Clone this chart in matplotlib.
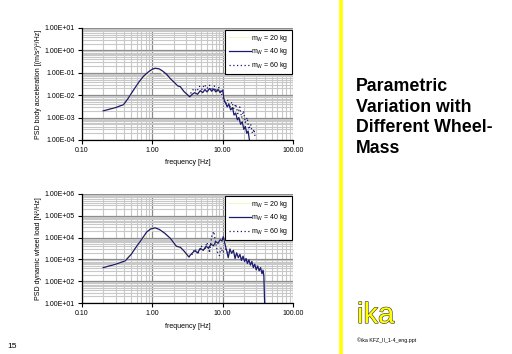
import matplotlib
matplotlib.use("Agg")
import matplotlib.pyplot as plt
import matplotlib.ticker as mticker
import matplotlib.patheffects as pe
import numpy as np

plt.rcParams['font.family'] = ['Liberation Sans', 'DejaVu Sans']
plt.rcParams['mathtext.default'] = 'regular'

# ---------------- data ----------------
series_labels = ["m$_W$ = 20 kg", "m$_W$ = 40 kg", "m$_W$ = 60 kg"]

# top chart: PSD body acceleration
acc_f40 = [0.2, 0.3, 0.39, 0.45, 0.54, 0.65, 0.75, 0.88, 1.0, 1.1, 1.25, 1.4, 1.6, 1.8, 2.0,
           2.3, 2.5, 2.8, 3.1, 3.4, 3.7, 4.0, 4.4, 4.8, 5.2, 5.6, 6.0, 6.5, 7.0, 7.5, 8.0,
           8.6, 9.2, 10.0, 10.5, 11.0, 11.6, 12.2, 13.0, 13.8, 14.5, 15.3, 16.2, 17.0, 18.0,
           19.0, 20.0, 21.0, 22.0, 23.0, 24.0]
acc_v40 = [2.0e-3, 2.8e-3, 3.8e-3, 7e-3, 1.7e-2, 4.0e-2, 7.0e-2, 1.1e-1, 1.45e-1, 1.6e-1,
           1.5e-1, 1.2e-1, 8.5e-2, 5.5e-2, 4e-2, 2.6e-2, 2.4e-2, 1.5e-2, 1.1e-2, 8.5e-3,
           1.1e-2, 1.3e-2, 1.1e-2, 1.6e-2, 1.3e-2, 1.8e-2, 1.4e-2, 2.0e-2, 1.5e-2, 1.9e-2,
           1.4e-2, 1.8e-2, 1.3e-2, 1.7e-2, 6e-3, 4.5e-3, 3.0e-3, 4e-3, 2.2e-3, 2.8e-3,
           1.3e-3, 1.6e-3, 8e-4, 1.0e-3, 5e-4, 6.5e-4, 3e-4, 4e-4, 2e-4, 2.5e-4, 1e-4]
acc_f60 = [3.5, 3.9, 4.3, 4.7, 5.1, 5.5, 6.0, 6.5, 7.0, 7.6, 8.2, 8.8, 9.5, 10.2, 11.0,
           11.8, 12.6, 13.5, 14.4, 15.4, 16.4, 17.5, 18.6, 19.8, 21.0, 22.3, 23.6, 25.0,
           26.5, 28.0, 29.0]
acc_v60 = [1.2e-2, 2.0e-2, 1.5e-2, 2.5e-2, 1.8e-2, 3.0e-2, 2.0e-2, 2.8e-2, 1.6e-2, 2.6e-2,
           1.4e-2, 2.2e-2, 1.2e-2, 7e-3, 4e-3, 6e-3, 3e-3, 5e-3, 2.5e-3, 4e-3, 1.5e-3,
           3e-3, 1.0e-3, 2e-3, 6e-4, 1.0e-3, 3e-4, 5e-4, 2e-4, 3e-4, 1.2e-4]
acc_f20 = [0.2, 0.4, 0.7, 1.1, 1.8, 3.0, 5.0, 8.0, 12.0, 16.0, 20.0]
acc_v20 = [2.0e-3, 4e-3, 5e-2, 1.6e-1, 5e-2, 1.1e-2, 1.4e-2, 1.5e-2, 6e-3, 2e-3, 5e-4]

# bottom chart: PSD dynamic wheel load
load_f40 = [0.2, 0.3, 0.41, 0.5, 0.57, 0.7, 0.83, 0.95, 1.09, 1.25, 1.5, 1.8, 2.0, 2.2,
            2.5, 2.8, 3.3, 3.6, 4.0, 4.4, 4.8, 5.3, 5.8, 6.3, 6.8, 7.4, 8.0, 8.6, 9.2,
            9.8, 10.2, 10.8, 11.4, 12.0, 12.7, 13.4, 14.2, 15.0, 15.8, 16.7, 17.6, 18.5,
            19.5, 20.5, 21.5, 22.5, 23.6, 24.8, 26.0, 27.3, 28.6, 30.0, 31.5, 33.0, 34.6,
            36.2, 37.5, 38.5, 39.5]
load_v40 = [420, 600, 850, 1700, 3200, 8000, 18000, 25000, 28000, 24000, 16000, 9300,
            6000, 4000, 3600, 2500, 1300, 1800, 2500, 2000, 3200, 2600, 4000, 3200, 5000,
            4200, 6500, 5500, 8000, 7000, 11000, 5000, 2500, 1200, 3000, 1900, 2600, 1100,
            2000, 1200, 1700, 900, 1400, 800, 1100, 650, 950, 550, 800, 420, 600, 330, 500,
            300, 420, 220, 320, 180, 10]
load_f60 = [3.3, 3.6, 4.0, 4.5, 5.0, 5.5, 6.0, 6.5, 7.0, 7.5, 8.0, 8.5, 9.0, 9.5, 10.0,
            11.0, 12.0]
load_v60 = [1300, 1500, 3000, 2000, 4000, 2500, 6000, 2000, 12000, 19000, 5000, 2000,
            1500, 3500, 2000, 3000, 2000]
load_f20 = [0.2, 0.4, 0.7, 1.1, 1.8, 3.0, 6.0, 10.0, 15.0]
load_v20 = [420, 850, 8000, 28000, 9300, 1500, 3000, 8000, 2000]

xticks = [0.1, 1, 10, 100]
xtick_labels = ["0.10", "1.00", "10.00", "100.00"]

# ---------------- figure ----------------
fig = plt.figure(figsize=(5.12, 3.54), dpi=100)
navy = "#1a1a6e"
pale = "#f8f4c8"

def style(ax, ylim, ylabel, ylab_fmt):
    ax.set_xscale('log')
    ax.set_yscale('log')
    ax.set_xlim(0.1, 100)
    ax.set_ylim(*ylim)
    ax.xaxis.set_minor_locator(mticker.LogLocator(base=10, subs=np.arange(2, 10)))
    ax.yaxis.set_minor_locator(mticker.LogLocator(base=10, subs=np.arange(2, 10)))
    ax.grid(True, which='minor', color='#c8c8c8', lw=0.8)
    ax.grid(True, which='major', color='#8a8a8a', lw=0.9)
    ax.set_axisbelow(True)
    for s in ['top', 'right']:
        ax.spines[s].set_visible(False)
    for s in ['left', 'bottom']:
        ax.spines[s].set_linewidth(0.9)
    ax.set_xticks(xticks)
    ax.set_xticklabels(xtick_labels)
    ax.yaxis.set_major_locator(mticker.LogLocator(base=10, numticks=20))
    ax.yaxis.set_major_formatter(mticker.FuncFormatter(ylab_fmt))
    ax.tick_params(which='major', length=3, width=0.8, labelsize=5, pad=2)
    ax.tick_params(which='minor', length=0)
    ax.set_xlabel("frequency [Hz]", fontsize=5, labelpad=4)
    ax.set_ylabel(ylabel, fontsize=5)
    ax.yaxis.set_label_coords(-0.19, 0.5)

def efmt(v, pos):
    e = int(round(np.log10(v)))
    return "1.00E%s%02d" % ('+' if e >= 0 else '-', abs(e))

dotted = (0, (1, 2))

# top axes
ax1 = fig.add_axes([82/512, 1-140/354, 211/512, 112/354])
ax1.plot(acc_f20, acc_v20, color=pale, lw=0.8, label=series_labels[0])
ax1.plot(acc_f40, acc_v40, color=navy, lw=0.9, label=series_labels[1])
ax1.plot(acc_f60, acc_v60, color=navy, lw=0.9, ls=dotted, label=series_labels[2])
style(ax1, (1e-4, 1e1), "PSD body acceleration [(m/s²)²/Hz]", efmt)

# bottom axes
ax2 = fig.add_axes([82/512, 1-303/354, 211/512, 109/354])
ax2.plot(load_f20, load_v20, color=pale, lw=0.8, label=series_labels[0])
ax2.plot(load_f40, load_v40, color=navy, lw=0.9, label=series_labels[1])
ax2.plot(load_f60, load_v60, color=navy, lw=0.9, ls=dotted, label=series_labels[2])
style(ax2, (1e1, 1e6), "PSD dynamic wheel load [N²/Hz]", efmt)

for ax in (ax1, ax2):
    leg = ax.legend(loc='upper right', fontsize=5, frameon=True, fancybox=False,
                    edgecolor='black', framealpha=1, handlelength=3.2, borderpad=0.45,
                    labelspacing=0.38, handletextpad=0.1, borderaxespad=0.0,
                    bbox_to_anchor=(0.995, 0.985))
    leg.get_frame().set_linewidth(0.8)
    for t in leg.get_texts():
        t.set_ha('right')

# yellow divider
fig.add_artist(plt.Line2D([341/512, 341/512], [0, 1], color='#ffff00', lw=2.6,
                          transform=fig.transFigure))

fig.text(356/512, 1-78/354, "Parametric\nVariation with\nDifferent Wheel-\nMass",
         fontsize=12.8, fontweight='bold', va='top', ha='left', color='black',
         linespacing=1.27)

t = fig.text(357/512, 1-323/354, "ika", fontsize=21, color='#ffff00', ha='left',
             va='baseline')
t.set_path_effects([pe.Stroke(linewidth=0.8, foreground='#333333'), pe.Normal()])

fig.text(357/512, 1-342/354, "©ika KFZ_II_1-4_eng.ppt", fontsize=3.8, ha='left',
         va='baseline', color='black')
fig.text(7/512, 1-348/354, "15", fontsize=6, ha='left', va='baseline', color='black')

fig.savefig("out.png", dpi=100)
